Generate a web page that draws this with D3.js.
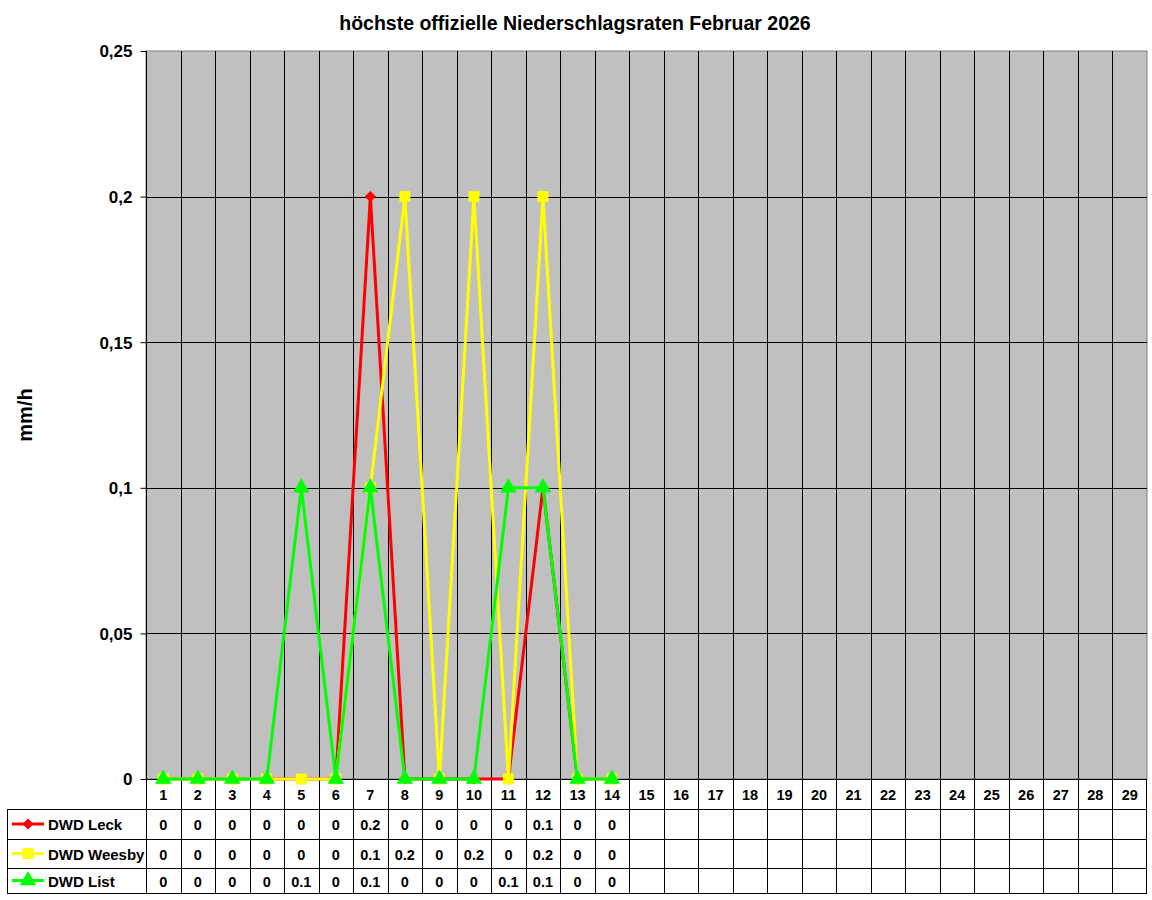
<!DOCTYPE html>
<html lang="de">
<head>
<meta charset="UTF-8">
<title>höchste offizielle Niederschlagsraten Februar 2026</title>
<script src="https://d3js.org/d3.v7.min.js"></script>
<style>
    body { margin: 0; background: #fff; font-family: Arial, "Liberation Sans", sans-serif; }
    svg text { font-family: Arial, "Liberation Sans", sans-serif; font-weight: bold; fill: #000; }
</style>
</head>
<body>
<svg id="chart" width="1152" height="900"></svg>
<script>
// data
const days = d3.range(1, 30).map(String);
const seriesNames = ["DWD Leck", "DWD Weesby", "DWD List"];
const leck   = [0, 0, 0, 0, 0, 0, 0.2, 0, 0, 0, 0, 0.1, 0, 0];
const weesby = [0, 0, 0, 0, 0, 0, 0.1, 0.2, 0, 0.2, 0, 0.2, 0, 0];
const list   = [0, 0, 0, 0, 0.1, 0, 0.1, 0, 0, 0, 0.1, 0.1, 0, 0];
const yTicks = [0, 0.05, 0.1, 0.15, 0.2, 0.25];

const colors = ["#ff0000", "#ffff00", "#00ff00"];
const symbols = [d3.symbolSquare, d3.symbolSquare, d3.symbolTriangle];
const symSizes = [62, 120, 120];
const symRotate = [45, 0, 0];
const series = [leck, weesby, list];

const svg = d3.select("#chart");
const plot = { left: 146, right: 1147, top: 51, bottom: 779 };
const rowH = [30, 30, 29, 25]; // header row, then 3 series rows
const tableLeft = 7;

const x = d3.scaleBand().domain(days).range([plot.left, plot.right]).padding(0);
const y = d3.scaleLinear().domain([0, 0.25]).range([plot.bottom, plot.top]);

// title
svg.append("text")
    .attr("x", 575).attr("y", 30)
    .attr("text-anchor", "middle")
    .style("font-size", "19.5px")
    .text("höchste offizielle Niederschlagsraten Februar 2026");

// plot background
svg.append("rect")
    .attr("x", plot.left).attr("y", plot.top)
    .attr("width", plot.right - plot.left).attr("height", plot.bottom - plot.top)
    .attr("fill", "#c0c0c0").attr("stroke", "#808080");

// horizontal grid
svg.append("g").selectAll("line").data(yTicks.slice(1, -1)).join("line")
    .attr("x1", plot.left).attr("x2", plot.right)
    .attr("y1", d => Math.round(y(d)) + 0.5).attr("y2", d => Math.round(y(d)) + 0.5)
    .attr("stroke", "#000");

// vertical grid (category boundaries)
svg.append("g").selectAll("line").data(days.slice(1)).join("line")
    .attr("x1", d => Math.round(x(d)) + 0.5).attr("x2", d => Math.round(x(d)) + 0.5)
    .attr("y1", plot.top).attr("y2", plot.bottom)
    .attr("stroke", "#000");

// y axis
const yAxis = svg.append("g")
    .attr("transform", `translate(${plot.left + 0.5},0)`)
    .call(d3.axisLeft(y).tickValues(yTicks).tickSize(6).tickPadding(8)
        .tickFormat(d => d3.format(".2~f")(d).replace(".", ",")));
yAxis.select(".domain").attr("stroke", "#000").attr("d", `M0,${plot.top}V${plot.bottom}`);
yAxis.selectAll(".tick line").attr("stroke", "#000");
yAxis.selectAll(".tick text").style("font-size", "17px").attr("dy", "0.35em");

// y axis title
svg.append("text")
    .attr("transform", "rotate(-90)")
    .attr("x", -415).attr("y", 32)
    .attr("text-anchor", "middle")
    .style("font-size", "20px")
    .text("mm/h");

// data table
const tableTop = plot.bottom;
const rowY = [tableTop];
rowH.forEach((h, i) => rowY.push(rowY[i] + h));
const table = svg.append("g");

// horizontal table lines
table.append("line")
    .attr("x1", plot.left).attr("x2", plot.right)
    .attr("y1", tableTop + 0.5).attr("y2", tableTop + 0.5).attr("stroke", "#000");
rowY.slice(1).forEach(yy => {
    table.append("line")
        .attr("x1", tableLeft).attr("x2", plot.right)
        .attr("y1", yy + 0.5).attr("y2", yy + 0.5).attr("stroke", "#000");
});
// vertical table lines
table.append("line")
    .attr("x1", tableLeft + 0.5).attr("x2", tableLeft + 0.5)
    .attr("y1", rowY[1]).attr("y2", rowY[4]).attr("stroke", "#000");
days.forEach(d => {
    const xx = Math.round(x(d)) + 0.5;
    table.append("line")
        .attr("x1", xx).attr("x2", xx)
        .attr("y1", tableTop).attr("y2", rowY[4]).attr("stroke", "#000");
});
table.append("line")
    .attr("x1", plot.right - 0.5).attr("x2", plot.right - 0.5)
    .attr("y1", tableTop).attr("y2", rowY[4]).attr("stroke", "#000");

// day labels
table.selectAll("text.day").data(days).join("text")
    .attr("class", "day")
    .attr("x", d => x(d) + x.bandwidth() / 2)
    .attr("y", rowY[0] + rowH[0] / 2 + 6)
    .attr("text-anchor", "middle")
    .style("font-size", "14.5px")
    .text(d => d);

// legend keys and values
series.forEach((vals, si) => {
    const cy = rowY[si + 1] + rowH[si + 1] / 2;
    table.append("line")
        .attr("x1", 12).attr("x2", 44).attr("y1", cy).attr("y2", cy)
        .attr("stroke", colors[si]).attr("stroke-width", 3);
    table.append("path")
        .attr("transform", `translate(28,${cy}) rotate(${symRotate[si]})`)
        .attr("d", d3.symbol(symbols[si], symSizes[si])())
        .attr("fill", colors[si]);
    table.append("text")
        .attr("x", 48).attr("y", cy + 6)
        .style("font-size", "15px")
        .text(seriesNames[si]);
    table.selectAll(null).data(vals).join("text")
        .attr("x", (d, i) => x(days[i]) + x.bandwidth() / 2)
        .attr("y", cy + 6)
        .attr("text-anchor", "middle")
        .style("font-size", "14.5px")
        .text(d => String(d));
});

// lines and markers
const line = d3.line()
    .x((d, i) => x(days[i]) + x.bandwidth() / 2)
    .y(d => y(d));

series.forEach((vals, si) => {
    svg.append("path")
        .datum(vals)
        .attr("d", line)
        .attr("fill", "none")
        .attr("stroke", colors[si])
        .attr("stroke-width", 3)
        .attr("stroke-linejoin", "round");
    svg.append("g").selectAll("path").data(vals).join("path")
        .attr("transform", (d, i) => `translate(${x(days[i]) + x.bandwidth() / 2},${y(d)}) rotate(${symRotate[si]})`)
        .attr("d", d3.symbol(symbols[si], symSizes[si])())
        .attr("fill", colors[si]);
});
</script>
</body>
</html>
